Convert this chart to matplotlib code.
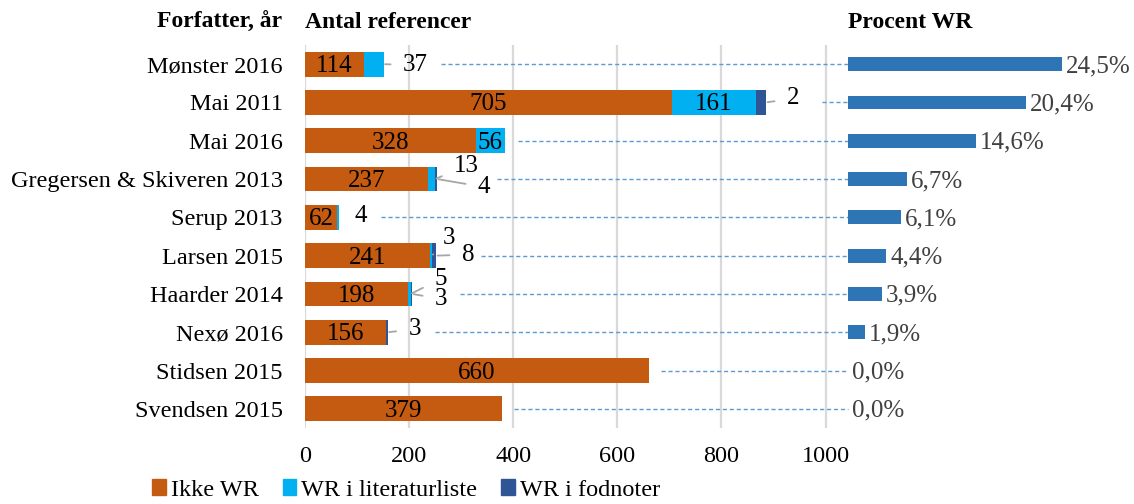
import matplotlib.pyplot as plt
from matplotlib.patches import Patch

# ---- data -------------------------------------------------------------------
authors = ["Mønster 2016", "Mai 2011", "Mai 2016", "Gregersen & Skiveren 2013",
           "Serup 2013", "Larsen 2015", "Haarder 2014", "Nexø 2016",
           "Stidsen 2015", "Svendsen 2015"]
ikke_wr = [114, 705, 328, 237, 62, 241, 198, 156, 660, 379]
wr_litt = [37, 161, 56, 13, 4, 3, 5, 0, 0, 0]
wr_fod = [0, 20, 0, 4, 0, 8, 3, 3, 0, 0]
pct_wr = [24.5, 20.4, 14.6, 6.7, 6.1, 4.4, 3.9, 1.9, 0.0, 0.0]
series_names = ["Ikke WR", "WR i literaturliste", "WR i fodnoter"]
x_ticks = [0, 200, 400, 600, 800, 1000]

# labels inside segments: (row, series)
inner = [(r, 0) for r in range(10)] + [(1, 1), (2, 1)]
# labels outside: (row, series, text, dx px, dy px, leader)
outer = [
    (0, 1, "37", 32, -1, True),
    (1, 2, "2", 27, 4, True),
    (3, 1, "13", 31, 13, True),
    (3, 2, "4", 47, -8, True),
    (4, 1, "4", 21, 1, False),
    (5, 1, "3", 17, 18, True),
    (5, 2, "8", 32, 1, True),
    (6, 1, "5", 30, 15, True),
    (6, 2, "3", 29, -5, True),
    (7, 2, "3", 27, 3, True),
]
dash_gap = [57, 56, 13, 60, 42, 45, 48, 47, 12, 12]  # px after bar end

colors = ["#C55A11", "#00B0F0", "#2F5597"]
pct_color = "#2E75B6"

plt.rcParams["font.family"] = ["Liberation Serif", "DejaVu Serif"]
FS = 17.5

W, H = 1134, 504
fig = plt.figure(figsize=(W / 100, H / 100), dpi=100)

top, bot = 45, 428
x0, x_split = 305, 848
px_per_unit = 0.5205
ax = fig.add_axes([x0 / W, (H - bot) / H, (x_split - x0) / W, (bot - top) / H])
xmax = (x_split - x0) / px_per_unit
ax.set_xlim(0, xmax)
ax.set_ylim(9.5, -0.5)

ypos = list(range(len(authors)))
segs = [ikke_wr, wr_litt, wr_fod]
left = [0] * len(authors)
ends = []
for vals, c, name in zip(segs, colors, series_names):
    ax.barh(ypos, vals, left=left, height=0.65, color=c, label=name, zorder=3)
    left = [l + v for l, v in zip(left, vals)]
    ends.append(list(left))

for r, s in inner:
    start = ends[s][r] - segs[s][r]
    ax.annotate(str(segs[s][r]), xy=(start + segs[s][r] / 2, r), xytext=(0, -2),
                textcoords="offset pixels", ha="center", va="center",
                fontsize=18, color="black", zorder=4)

for r, s, txt, dx, dy, lead in outer:
    ax.annotate(txt, xy=(ends[s][r], r), xytext=(dx, dy), textcoords="offset pixels",
                ha="center", va="center", fontsize=18, color="black",
                arrowprops=dict(arrowstyle="-", color="#A6A6A6", lw=1.3,
                                shrinkA=7, shrinkB=1) if lead else None)

# dashed connectors to percent bars
for r in ypos:
    start = ends[2][r] + dash_gap[r] / px_per_unit
    ax.plot([start, xmax], [r, r], ls=(0, (3, 2)), color="#5B9BD5", lw=1.0,
            zorder=2, clip_on=False)

ax.set_xticks(x_ticks)
ax.set_yticks(ypos)
ax.set_yticklabels(authors)
ax.tick_params(axis="both", length=0, labelsize=FS)
ax.tick_params(axis="y", pad=16)
ax.tick_params(axis="x", pad=13)
for sp in ax.spines.values():
    sp.set_visible(False)
for t in x_ticks:
    ax.axvline(t, color="#D9D9D9", lw=1.6, zorder=1)

# percent axes
pct_right = 1062
ax2 = fig.add_axes([x_split / W, (H - bot) / H, (pct_right - x_split) / W, (bot - top) / H])
ax2.set_xlim(0, max(pct_wr))
ax2.set_ylim(9.5, -0.5)
ax2.barh(ypos, pct_wr, height=0.36, color=pct_color, zorder=3)
for r, p in zip(ypos, pct_wr):
    ax2.annotate(f"{p:.1f}%".replace(".", ","), xy=(p, r), xytext=(4, -2),
                 textcoords="offset pixels", ha="left", va="center",
                 fontsize=18, color="#404040", annotation_clip=False)
ax2.axis("off")

# headers
fig.text(282 / W, 1 - 22 / H, "Forfatter, år", ha="right", va="center",
         fontsize=17, fontweight="bold")
fig.text(305 / W, 1 - 22 / H, "Antal referencer", ha="left", va="center",
         fontsize=17, fontweight="bold")
fig.text(848 / W, 1 - 22 / H, "Procent WR", ha="left", va="center",
         fontsize=17, fontweight="bold")

handles = [Patch(color=c, label=n) for c, n in zip(colors, series_names)]
fig.legend(handles=handles, loc="center", bbox_to_anchor=(406 / W, 1 - 490 / H),
           ncol=3, frameon=False, fontsize=FS, handlelength=0.55, handleheight=0.6,
           handletextpad=0.2, columnspacing=1.0, borderaxespad=0)

fig.savefig("out.png", dpi=100)
